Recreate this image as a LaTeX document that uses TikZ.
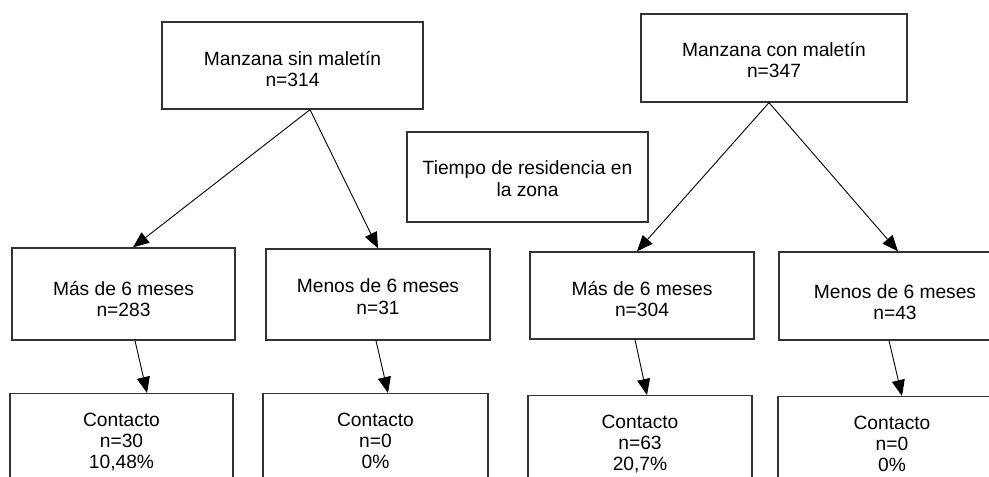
\documentclass[tikz,border=0pt]{standalone}
\usepackage{fontspec}
\setmainfont{Liberation Sans}
\usetikzlibrary{arrows.meta,calc}
\begin{document}
\begin{tikzpicture}[x=1pt,y=-1pt,
  box/.style={draw=black!80, line width=1.3pt, inner sep=0pt},
  txt/.style={inner sep=0pt, align=center, font=\fontsize{19.2}{21.5}\selectfont},
  lowbox/.style={draw=black!80, line width=1.3pt, inner xsep=0pt, inner ysep=19pt,
    anchor=north, align=center, font=\fontsize{19.2}{21}\selectfont},
  conn/.style={draw=black, line width=0.9pt, -{Triangle[length=16pt,width=13pt]}}
]
\useasboundingbox (0,0) rectangle (989,477);
% top level
\node[box, minimum width=261pt, minimum height=87pt,
  label={[txt,yshift=-3.5pt]center:Manzana sin maletín\\n=314}] (A) at (292.5,65.5) {};
\node[box, minimum width=266pt, minimum height=88pt,
  label={[txt,yshift=-2pt]center:Manzana con maletín\\n=347}] (B) at (774,58) {};
\node[box, minimum width=241pt, minimum height=90pt,
  label={[txt,yshift=-1.5pt]center:Tiempo de residencia en\\la zona}] (T) at (527.5,177) {};
% middle level
\node[box, minimum width=223pt, minimum height=92pt,
  label={[txt,yshift=-5pt]center:Más de 6 meses\\n=283}] (C1) at (123.5,294) {};
\node[box, minimum width=224pt, minimum height=91pt,
  label={[txt,yshift=-2pt]center:Menos de 6 meses\\n=31}] (C2) at (378,294.5) {};
\node[box, minimum width=224pt, minimum height=87pt,
  label={[txt,yshift=-3.5pt]center:Más de 6 meses\\n=304}] (C3) at (642,295.5) {};
\node[box, minimum width=232pt, minimum height=88pt,
  label={[txt,yshift=-6pt]center:Menos de 6 meses\\n=43}] (C4) at (895,296) {};
% bottom level
\node[lowbox, minimum width=223pt] (D1) at (121.5,393) {Contacto\\n=30\\10,48\%};
\node[lowbox, minimum width=225pt] (D2) at (375.5,393) {Contacto\\n=0\\0\%};
\node[lowbox, minimum width=224pt] (D3) at (640,395) {Contacto\\n=63\\20,7\%};
\node[lowbox, minimum width=228pt] (D4) at (892,396) {Contacto\\n=0\\0\%};
% connectors
\coordinate (Aout) at ([xshift=17.5pt]A.south);
\coordinate (Bout) at ([xshift=-5pt]B.south);
\draw[conn] (Aout) -- ([xshift=9.5pt]C1.north);
\draw[conn] (Aout) -- (C2.north);
\draw[conn] (Bout) -- ([xshift=-5pt]C3.north);
\draw[conn] (Bout) -- ([xshift=3pt]C4.north);
\draw[conn] ([xshift=11.5pt]C1.south) -- ([xshift=25.5pt]D1.north);
\draw[conn] ([xshift=-2pt]C2.south) -- ([xshift=12.5pt]D2.north);
\draw[conn] ([xshift=-7pt]C3.south) -- ([xshift=7pt]D3.north);
\draw[conn] ([xshift=-6pt]C4.south) -- ([xshift=10pt]D4.north);
\end{tikzpicture}
\end{document}
